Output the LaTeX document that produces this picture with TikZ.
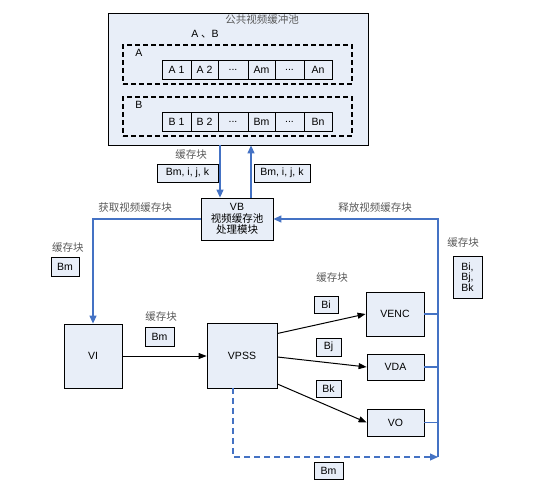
\documentclass[tikz,border=0pt]{standalone}
\usepackage{fontspec}
\setmainfont{Liberation Sans}
\newfontfamily\cjk{Noto Sans CJK SC}
\usetikzlibrary{arrows.meta,calc}
\definecolor{boxfill}{HTML}{E8EEF8}
\definecolor{lineblue}{HTML}{4472C4}
\definecolor{labelgray}{HTML}{595959}
\begin{document}
\begin{tikzpicture}[x=1pt,y=-1pt,
  every node/.style={font=\fontsize{10.5}{12.5}\selectfont},
  blk/.style={draw=black,fill=boxfill,line width=0.8pt,inner sep=0pt,anchor=center},
  tag/.style={draw=black,fill=boxfill,line width=0.7pt,inner sep=0pt,align=center},
  cell/.style={draw=black,fill=boxfill,line width=0.7pt,inner sep=0pt,minimum height=19pt},
  grp/.style={draw=black,dashed,line width=1.2pt,dash pattern=on 5pt off 3pt,inner sep=0pt},
  lbl/.style={text=labelgray,inner sep=0pt,font=\cjk\fontsize{10.5}{12.5}\selectfont},
  bluearrow/.style={draw=lineblue,line width=1.2pt,-{Triangle[length=8pt,width=7pt]}},
  blueline/.style={draw=lineblue,line width=1.2pt},
  blackarrow/.style={draw=black,line width=1pt,-{Triangle[length=8pt,width=6pt]}}
]
\useasboundingbox (0,0) rectangle (536,492);

% pool
\node[blk,minimum width=260pt,minimum height=132pt] (pool) at (238,79) {};
\node[lbl] (ptitle) at (262,20) {公共视频缓冲池};
\node[inner sep=0pt] (ab) at (205,34) {A {\cjk 、}B};
\node[grp,minimum width=229pt,minimum height=39pt] (ga) at (237.5,64.5) {};
\node[grp,minimum width=229pt,minimum height=39pt] (gb) at (237.5,116.5) {};
\node[inner sep=0pt] (la) at (139,53) {A};
\node[inner sep=0pt] (lb) at (139,105) {B};

\node[cell,minimum width=29pt] (a1) at (176.5,69.5) {A 1};
\node[cell,minimum width=27pt] (a2) at (204.5,69.5) {A 2};
\node[cell,minimum width=30pt] (a3) at (233,69.5) {...};
\node[cell,minimum width=27pt] (a4) at (261.5,69.5) {Am};
\node[cell,minimum width=29pt] (a5) at (289.5,69.5) {...};
\node[cell,minimum width=28pt] (a6) at (318,69.5) {An};

\node[cell,minimum width=29pt] (b1) at (176.5,121.5) {B 1};
\node[cell,minimum width=27pt] (b2) at (204.5,121.5) {B 2};
\node[cell,minimum width=30pt] (b3) at (233,121.5) {...};
\node[cell,minimum width=27pt] (b4) at (261.5,121.5) {Bm};
\node[cell,minimum width=29pt] (b5) at (289.5,121.5) {...};
\node[cell,minimum width=28pt] (b6) at (318,121.5) {Bn};

% VB
\node[blk,minimum width=72pt,minimum height=42pt,align=center] (vb) at (237,219)
  {VB\\[-1pt]{\cjk 视频缓存池}\\[-1pt]{\cjk 处理模块}};

\node[lbl] (l1) at (191,155) {缓存块};
\node[tag,minimum width=61pt,minimum height=18pt] (t1) at (187.5,173) {Bm, i, j, k};
\node[tag,minimum width=56pt,minimum height=18pt] (t2) at (282,173) {Bm, i, j, k};

\coordinate (xdown) at (220,0);
\coordinate (xup) at (251,0);
\draw[bluearrow] (pool.south -| xdown) -- (vb.north -| xdown);
\draw[bluearrow] (vb.north -| xup) -- (pool.south -| xup);

% VI, VPSS
\node[blk,minimum width=58pt,minimum height=64pt] (vi) at (93,356) {VI};
\node[blk,minimum width=70pt,minimum height=65pt] (vpss) at (242,355.5) {VPSS};

\node[lbl] (l2) at (135,208) {获取视频缓存块};
\node[lbl] (l3) at (375,208) {释放视频缓存块};
\draw[bluearrow] (vb.west) -| (vi.north);

\node[lbl] (l4) at (68,248) {缓存块};
\node[tag,minimum width=28pt,minimum height=19pt] (t3) at (65,266.5) {Bm};

\draw[blackarrow] (vi.east) -- (vpss.west |- vi.east);
\node[lbl] (l5) at (161,317) {缓存块};
\node[tag,minimum width=29pt,minimum height=19pt] (t4) at (159.5,336.5) {Bm};

% outputs
\node[blk,minimum width=58pt,minimum height=44pt] (venc) at (395,314) {VENC};
\node[blk,minimum width=57pt,minimum height=26pt] (vda) at (395.5,367) {VDA};
\node[blk,minimum width=57pt,minimum height=27pt] (vo) at (395.5,422.5) {VO};

\draw[blackarrow] ([yshift=22pt]vpss.east) -- (venc.west);
\draw[blackarrow] ([yshift=-1.5pt]vpss.east) -- (vda.west);
\draw[blackarrow] ([yshift=-28.5pt]vpss.east) -- (vo.west);

\node[lbl] (l6) at (332,278) {缓存块};
\node[tag,minimum width=24pt,minimum height=17pt] (t5) at (326,304.5) {Bi};
\node[tag,minimum width=25pt,minimum height=18pt] (t6) at (328.5,347) {Bj};
\node[tag,minimum width=25pt,minimum height=17pt] (t7) at (328.5,388.5) {Bk};

\node[lbl] (l7) at (463,243) {缓存块};
\node[tag,minimum width=29pt,minimum height=42pt] (t8) at (467.5,277) {Bi,\\[-2pt]Bj,\\[-2pt]Bk};

% release path
\coordinate (xr) at (438,0);
\coordinate (yb) at (0,457);
\coordinate (xd) at (233,0);
\draw[blueline] (venc.east) -- (venc.east -| xr);
\draw[blueline] (vda.east) -- (vda.east -| xr);
\draw[blueline] (vo.east) -- (vo.east -| xr);
\draw[bluearrow,dashed,dash pattern=on 6pt off 4pt] (vpss.south -| xd) |- (xr |- yb);
\draw[bluearrow] (xr |- yb) |- (vb.east);

\node[tag,minimum width=29pt,minimum height=17pt] (t9) at (328.5,470.5) {Bm};
\end{tikzpicture}
\end{document}
